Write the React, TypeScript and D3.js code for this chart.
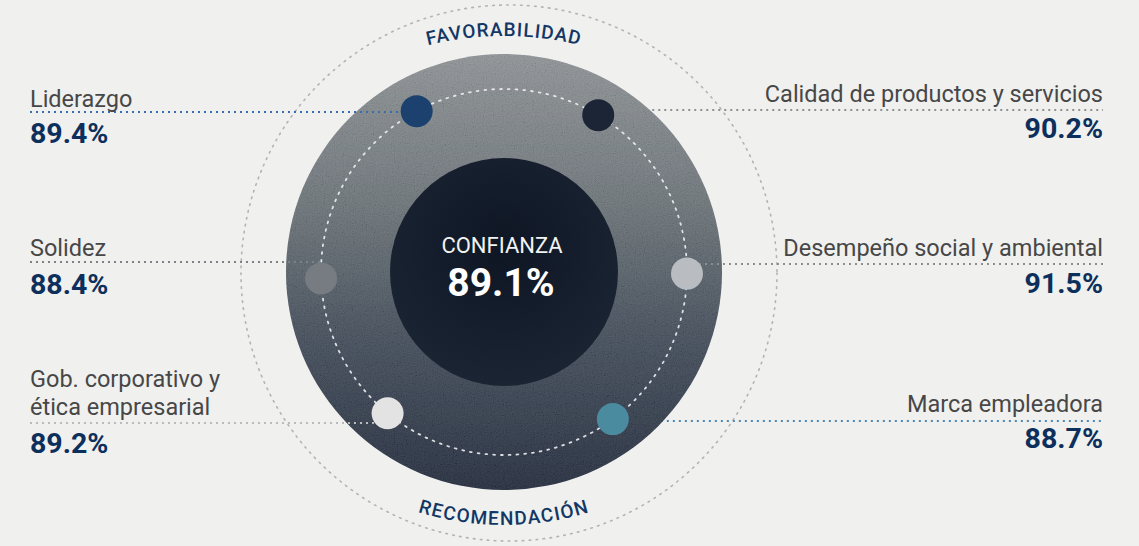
import React from "react";
import * as d3 from "d3";

// ---------- data ----------
const categories = [
  "Liderazgo",
  "Calidad de productos y servicios",
  "Solidez",
  "Desempeño social y ambiental",
  "Gob. corporativo y|ética empresarial",
  "Marca empleadora",
];
const values = [89.4, 90.2, 88.4, 91.5, 89.2, 88.7];
const centerTitle = "CONFIANZA";
const centerValue = 89.1;
const topArcLabel = "FAVORABILIDAD";
const bottomArcLabel = "RECOMENDACIÓN";

// ---------- layout ----------
const W = 1139;
const H = 546;
const cx = 504;
const cy = 272;
const R_BIG = 218;
const R_INNER = 114;
const R_RING = 183;
const R_OUTER = 268;
const OUTER_CX = 509;
const DOT_R = 16;
const LEFT_X = 30;
const RIGHT_X = 1103;

const dotAngles = [-28.5, 31, -92, 90.5, -140.5, 143.5]; // degrees, clockwise from top
const sides = ["left", "right", "left", "right", "left", "right"];
const lineYs = [112, 110, 262, 264, 423, 421];
const lineUnder = [false, false, false, false, false, true];
const labelYs = [[107], [102], [256], [256], [387, 415], [412]];
const valueYs = [143, 138, 294, 293, 453, 448];
const dotColors = ["#1d416f", "#1b2535", "#767c82", "#b9bdc2", "#e3e3e3", "#4b8b9f"];
const lineColors = ["#3a6cb0", "#8d8f92", "#7d8084", "#8d8f92", "#b9bbbd", "#4f86b8"];

const fmt = d3.format(".1f");
const FONT = "Roboto, 'Noto Sans', sans-serif";

export default function App() {
  const toRad = (a: number) => (a * Math.PI) / 180;
  const dots = dotAngles.map((a) => ({
    x: cx + R_RING * Math.sin(toRad(a)),
    y: cy - R_RING * Math.cos(toRad(a)),
  }));

  // arc paths for curved labels
  const topR = 320;
  const topCy = 36 + topR;
  const tA = toRad(35);
  const topPath = d3.path();
  topPath.moveTo(cx - topR * Math.sin(tA), topCy - topR * Math.cos(tA));
  topPath.arc(cx, topCy, topR, -Math.PI / 2 - tA, -Math.PI / 2 + tA, false);

  const botR = 290;
  const botCy = 525 - botR;
  const bA = toRad(35);
  const botPath = d3.path();
  botPath.moveTo(cx - botR * Math.sin(bA), botCy + botR * Math.cos(bA));
  botPath.arc(cx, botCy, botR, Math.PI / 2 + bA, Math.PI / 2 - bA, true);

  const leader = (d: { x: number; y: number }, i: number) => {
    const x1 = sides[i] === "left" ? LEFT_X : d.x;
    const x2 = sides[i] === "left" ? d.x : RIGHT_X;
    return (
      <line
        key={"l" + i}
        x1={x1}
        x2={x2}
        y1={lineYs[i]}
        y2={lineYs[i]}
        stroke={lineColors[i]}
        strokeWidth={2}
        strokeDasharray="2 4"
      />
    );
  };

  return (
    <div style={{ position: "fixed", left: 0, top: 0 }}>
      <svg width={W} height={H} viewBox={`0 0 ${W} ${H}`} style={{ display: "block" }}>
        <defs>
          <linearGradient id="bigGrad" x1="0" y1="0" x2="0" y2="1">
            <stop offset="0%" stopColor="#8e9295" />
            <stop offset="35%" stopColor="#6a7277" />
            <stop offset="65%" stopColor="#414b58" />
            <stop offset="100%" stopColor="#212a3c" />
          </linearGradient>
          <radialGradient id="innerGrad" cx="50%" cy="40%" r="60%">
            <stop offset="0%" stopColor="#0e1624" />
            <stop offset="100%" stopColor="#1b2433" />
          </radialGradient>
          <filter id="grain" x="0%" y="0%" width="100%" height="100%" filterUnits="objectBoundingBox">
            <feTurbulence type="fractalNoise" baseFrequency="0.9" numOctaves="2" seed="3" result="n" />
            <feColorMatrix in="n" type="saturate" values="0" result="g" />
            <feComponentTransfer in="g">
              <feFuncR type="linear" slope="2" intercept="-0.5" />
              <feFuncG type="linear" slope="2" intercept="-0.5" />
              <feFuncB type="linear" slope="2" intercept="-0.5" />
              <feFuncA type="linear" slope="0" intercept="1" />
            </feComponentTransfer>
          </filter>
          <clipPath id="bigClip">
            <circle cx={cx} cy={cy} r={R_BIG} />
          </clipPath>
          <path id="topArc" d={topPath.toString()} />
          <path id="botArc" d={botPath.toString()} />
        </defs>

        <rect x={0} y={0} width={W} height={H} fill="#f0f0ef" />

        {/* outer dotted ring */}
        <circle
          cx={OUTER_CX}
          cy={cy + 1}
          r={R_OUTER}
          fill="none"
          stroke="#b3b3b3"
          strokeWidth={1.6}
          strokeDasharray="1.6 5.4"
          strokeLinecap="round"
        />

        {dots.map((d, i) => (lineUnder[i] ? leader(d, i) : null))}

        {/* big circle */}
        <circle cx={cx} cy={cy} r={R_BIG} fill="url(#bigGrad)" />
        <g clipPath="url(#bigClip)" opacity={0.1}>
          <rect x={cx - R_BIG} y={cy - R_BIG} width={R_BIG * 2} height={R_BIG * 2} fill="#888" filter="url(#grain)" />
        </g>

        {/* inner dotted white ring */}
        <circle
          cx={cx}
          cy={cy}
          r={R_RING}
          fill="none"
          stroke="#eef0f2"
          strokeWidth={1.8}
          strokeDasharray="1.8 6"
          strokeLinecap="round"
          opacity={0.9}
        />

        {/* inner dark circle */}
        <circle cx={cx} cy={cy} r={R_INNER} fill="url(#innerGrad)" />

        {/* leader lines */}
        {dots.map((d, i) => (lineUnder[i] ? null : leader(d, i)))}

        {/* dots */}
        {dots.map((d, i) => (
          <circle key={"d" + i} cx={d.x} cy={d.y} r={DOT_R} fill={dotColors[i]} />
        ))}

        {/* labels */}
        {categories.map((c, i) => {
          const left = sides[i] === "left";
          const x = left ? LEFT_X : RIGHT_X;
          const anchor = left ? "start" : "end";
          return (
            <g key={"t" + i}>
              {c.split("|").map((ln, j) => (
                <text
                  key={j}
                  x={x}
                  y={labelYs[i][j]}
                  textAnchor={anchor}
                  fontFamily={FONT}
                  fontSize={23.5}
                  fill="#474747"
                >
                  {ln}
                </text>
              ))}
              <text
                x={x}
                y={valueYs[i]}
                textAnchor={anchor}
                fontFamily={FONT}
                fontSize={28.5}
                fontWeight={700}
                fill="#0c2f5c"
              >
                {fmt(values[i])}%
              </text>
            </g>
          );
        })}

        {/* center */}
        <text x={502} y={253} textAnchor="middle" fontFamily={FONT} fontSize={22} fill="#f2f2f2">
          {centerTitle}
        </text>
        <text x={501} y={296} textAnchor="middle" fontFamily={FONT} fontSize={39} fontWeight={700} fill="#ffffff">
          {fmt(centerValue)}%
        </text>

        {/* curved labels */}
        <text fontFamily={FONT} fontSize={19} fontWeight={500} fill="#123765" letterSpacing={1}>
          <textPath href="#topArc" startOffset="50%" textAnchor="middle">
            {topArcLabel}
          </textPath>
        </text>
        <text fontFamily={FONT} fontSize={19} fontWeight={500} fill="#123765" letterSpacing={1.3}>
          <textPath href="#botArc" startOffset="50%" textAnchor="middle">
            {bottomArcLabel}
          </textPath>
        </text>
      </svg>
    </div>
  );
}
